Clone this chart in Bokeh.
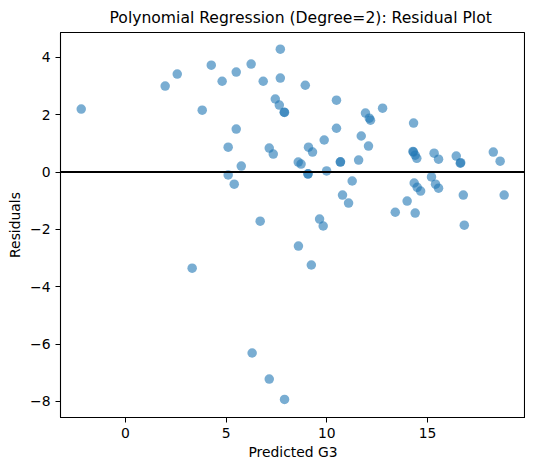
# Residual plot for the degree-2 polynomial regression, drawn with bokeh
from bokeh.plotting import figure
from bokeh.models import Range1d, Span, FixedTicker
from bokeh.embed import file_html
from bokeh.resources import INLINE

########################################################################################################################
# Data

predicted = [-2.20, 1.97, 2.57, 4.26, 4.80, 5.50, 6.24, 6.84, 7.69, 7.69,
             7.44, 7.64, 7.88, 7.90, 3.81, 5.50, 5.10, 7.14, 7.34, 5.75,
             8.58, 8.72, 5.10, 5.40, 8.93, 10.48, 11.92, 12.11, 12.17, 12.77,
             14.31, 10.48, 11.71, 9.87, 9.09, 9.29, 12.07, 10.67, 10.68, 11.58,
             9.06, 9.07, 9.99, 11.26, 14.28, 14.30, 14.39, 14.47, 15.33, 15.55,
             16.43, 16.63, 16.65, 18.27, 18.61, 15.20, 10.78, 11.08, 9.64, 9.82,
             8.59, 9.23, 14.34, 14.49, 14.66, 15.40, 15.55, 13.99, 13.40, 14.39,
             16.78, 16.83, 18.81, 6.69, 3.31, 6.29, 7.14, 7.90]
residuals = [2.20, 3.00, 3.42, 3.73, 3.17, 3.49, 3.77, 3.17, 4.29, 3.28,
             2.55, 2.34, 2.09, 2.08, 2.16, 1.50, 0.87, 0.84, 0.63, 0.21,
             0.35, 0.28, -0.10, -0.42, 3.03, 2.51, 2.06, 1.88, 1.81, 2.23,
             1.71, 1.53, 1.26, 1.12, 0.87, 0.70, 0.91, 0.35, 0.36, 0.42,
             -0.07, -0.06, 0.04, -0.31, 0.72, 0.70, 0.59, 0.48, 0.66, 0.45,
             0.56, 0.31, 0.33, 0.70, 0.38, -0.17, -0.80, -1.08, -1.64, -1.88,
             -2.58, -3.24, -0.38, -0.53, -0.66, -0.42, -0.56, -1.01, -1.40, -1.43,
             -0.80, -1.85, -0.80, -1.71, -3.35, -6.31, -7.22, -7.93]

x_ticks = [0, 5, 10, 15]
y_ticks = [-8, -6, -4, -2, 0, 2, 4]
y_tick_labels = ["\u22128", "\u22126", "\u22124", "\u22122", "0", "2", "4"]

########################################################################################################################
# Figure

font = "DejaVu Sans"

p = figure(title="Polynomial Regression (Degree=2): Residual Plot",
           x_axis_label="Predicted G3",
           y_axis_label="Residuals",
           frame_width=465, frame_height=385,
           x_range=Range1d(-3.23, 19.87), y_range=Range1d(-8.56, 4.87),
           min_border_left=0, min_border_right=0,
           min_border_top=0, min_border_bottom=0,
           output_backend="svg", toolbar_location=None)
p.margin = (0, 0, 0, 4)

p.title.align = "left"
p.title.offset = 49
p.title.standoff = 12
p.title.text_font = font
p.title.text_font_size = "15.6px"
p.title.text_font_style = "normal"
p.title.text_color = "black"

p.xgrid.visible = False
p.ygrid.visible = False
p.outline_line_color = "black"
p.outline_line_alpha = 1.0
p.outline_line_width = 1.1

p.xaxis.ticker = FixedTicker(ticks=x_ticks, minor_ticks=[])
p.yaxis.ticker = FixedTicker(ticks=y_ticks, minor_ticks=[])
p.yaxis.major_label_overrides = {t: s for t, s in zip(y_ticks, y_tick_labels)}

for ax in [p.xaxis, p.yaxis]:
    ax.axis_line_color = "black"
    ax.major_tick_line_color = "black"
    ax.major_tick_out = 5
    ax.major_tick_in = 0
    ax.major_label_text_font = font
    ax.major_label_text_font_size = "13.9px"
    ax.major_label_text_color = "black"
    ax.axis_label_text_font = font
    ax.axis_label_text_font_size = "13.9px"
    ax.axis_label_text_font_style = "normal"
    ax.axis_label_text_color = "black"
p.xaxis.axis_label_standoff = 3
p.yaxis.axis_label_standoff = 4

# zero line
p.add_layout(Span(location=0, dimension="width", line_color="black", line_width=2))

# residual points
p.scatter(predicted, residuals, size=9.5, fill_color="#1f77b4", fill_alpha=0.6, line_color=None)

open("out.html", "w").write(file_html(p, INLINE))
